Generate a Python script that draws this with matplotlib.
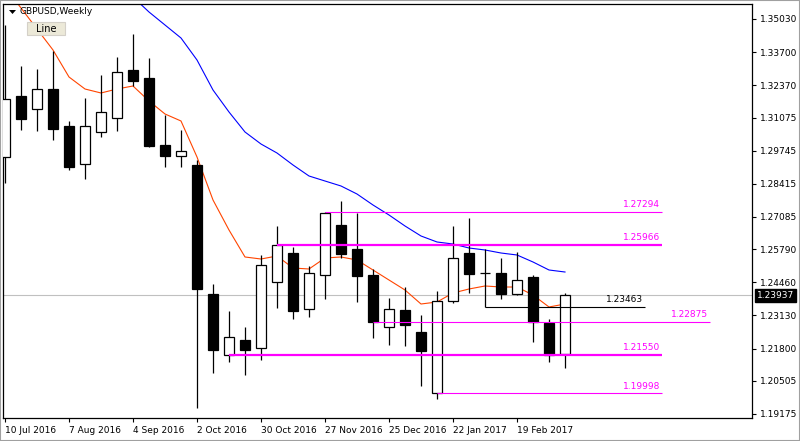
import numpy as np
import matplotlib.pyplot as plt
from matplotlib.patches import Rectangle, Polygon

# weekly GBPUSD candles, 10 Jul 2016 .. 12 Mar 2017
opens = [1.29491, 1.31939, 1.31417, 1.32220, 1.30735, 1.29210, 1.30494, 1.31056, 1.32983,
         1.32662, 1.29972, 1.29531, 1.29170, 1.23991, 1.21550, 1.22145, 1.21824, 1.24473,
         1.25637, 1.23389, 1.24754, 1.26761, 1.25798, 1.24754, 1.22667, 1.23349, 1.22466,
         1.19998, 1.23711, 1.25637, 1.24830, 1.24834, 1.23991, 1.24674, 1.22827, 1.21583]
highs = [1.34789, 1.33143, 1.33023, 1.33746, 1.30936, 1.31859, 1.32782, 1.33505, 1.34428,
         1.33465, 1.31177, 1.30574, 1.29370, 1.24393, 1.23309, 1.22667, 1.25557, 1.26721,
         1.25878, 1.25115, 1.27294, 1.27725, 1.27243, 1.24995, 1.23831, 1.24272, 1.23149,
         1.24112, 1.26721, 1.27042, 1.25798, 1.25437, 1.25677, 1.24754, 1.22988, 1.24032]
lows = [1.28447, 1.30574, 1.30534, 1.30173, 1.28969, 1.28608, 1.30293, 1.30534, 1.32341,
        1.29892, 1.29089, 1.29089, 1.19416, 1.20820, 1.21262, 1.20740, 1.21342, 1.23430,
        1.22988, 1.23068, 1.23791, 1.25437, 1.23670, 1.22225, 1.21944, 1.21904, 1.20299,
        1.19777, 1.23630, 1.24032, 1.23463, 1.23791, 1.23951, 1.22065, 1.21262, 1.21021]
closes = [1.31819, 1.31016, 1.32220, 1.30615, 1.29089, 1.30735, 1.31297, 1.32903, 1.32541,
          1.29932, 1.29531, 1.29732, 1.24192, 1.21744, 1.22265, 1.21744, 1.25156, 1.25966,
          1.23309, 1.24834, 1.27260, 1.25597, 1.24714, 1.22875, 1.23389, 1.22747, 1.21704,
          1.23711, 1.25437, 1.24794, 1.24840, 1.23991, 1.24553, 1.22875, 1.21550, 1.23937]

ma_fast = [1.36314, 1.35472, 1.34629, 1.33786, 1.32702, 1.32220, 1.32060, 1.32220, 1.32341,
           1.31739, 1.31217, 1.30936, 1.29491, 1.27765, 1.26560, 1.25477, 1.25396, 1.25517,
           1.25035, 1.24995, 1.25437, 1.25477, 1.25356, 1.24955, 1.24553, 1.24152, 1.23590,
           1.23670, 1.24032, 1.24192, 1.24313, 1.24272, 1.24272, 1.23951, 1.23470, 1.23590]
ma_slow = [np.nan] * 8 + [1.35913, 1.35311, 1.34789, 1.34267, 1.33384, 1.32180, 1.31297,
           1.30494, 1.30012, 1.29651, 1.29170, 1.28728, 1.28527, 1.28327, 1.28005, 1.27564,
           1.27163, 1.26721, 1.26320, 1.26079, 1.25998, 1.25838, 1.25758, 1.25637, 1.25557,
           1.25276, 1.24955, 1.24874]

date_labels = ["10 Jul 2016", "7 Aug 2016", "4 Sep 2016", "2 Oct 2016", "30 Oct 2016",
               "27 Nov 2016", "25 Dec 2016", "22 Jan 2017", "19 Feb 2017"]
price_ticks = [1.35030, 1.33700, 1.32370, 1.31075, 1.29745, 1.28415, 1.27085, 1.25790,
               1.24460, 1.23130, 1.21800, 1.20505, 1.19175]

# horizontal levels: price, start bar, bars past last candle, thick
levels = [1.27294, 1.25966, 1.22875, 1.21550, 1.19998]
level_start = [20, 17, 23, 14, 27]
level_ext = [6.06, 6.06, 9.06, 6.06, 6.06]
level_thick = [False, True, False, True, False]
black_level = 1.23463
black_start = 30
bid = 1.23937

W, H = 800, 441
fs = 6.5
fig = plt.figure(figsize=(8, 4.41), dpi=100)
fig.patch.set_facecolor("white")
ax = fig.add_axes([3 / W, 1 - 418 / H, 749 / W, 414 / H])

n = len(opens)
x = np.arange(n)
last = n - 1

# bid line
ax.axhline(bid, color="#c0c0c0", lw=0.8, zorder=1)

# moving averages
ax.plot(x, ma_fast, color="#ff4500", lw=0.8, zorder=2)
ax.plot(x, ma_slow, color="#0000ff", lw=0.8, zorder=2)

# candles
bw = 0.66
for i in range(n):
    o, h, l, c = opens[i], highs[i], lows[i], closes[i]
    ax.vlines(i, l, h, color="black", lw=0.9, zorder=3)
    if abs(c - o) < 0.0003:
        ax.hlines(o, i - bw / 2, i + bw / 2, color="black", lw=0.9, zorder=4)
        continue
    fc = "white" if c > o else "black"
    ax.add_patch(Rectangle((i - bw / 2, min(o, c)), bw, abs(c - o),
                           facecolor=fc, edgecolor="black", lw=0.9, zorder=4))

# magenta levels
for lv, st, ext, thick in zip(levels, level_start, level_ext, level_thick):
    end = last + ext
    ax.hlines(lv, st, end, color="#ff00ff", lw=1.6 if thick else 0.8, zorder=5)
    ax.text(end - 0.1, lv + 0.0011, f"{lv:.5f}", color="#ff00ff", fontsize=fs,
            ha="right", va="bottom", zorder=6)

ax.hlines(black_level, black_start, last + 5, color="black", lw=0.8, zorder=5)
ax.text(last + 4.9, black_level + 0.0011, f"{black_level:.5f}", color="black",
        fontsize=fs, ha="right", va="bottom", zorder=6)

ax.set_xlim(-0.125, 46.6875)
ax.set_ylim(1.19014, 1.35632)

ax.yaxis.tick_right()
ax.set_yticks(price_ticks)
ax.set_yticklabels([f"{p:.5f}" for p in price_ticks], fontsize=fs)
ax.set_xticks(np.arange(0, 33, 4))
ax.set_xticklabels(date_labels, fontsize=fs, ha="left")
ax.tick_params(axis="both", length=3, width=0.8, color="black", pad=3)
ax.tick_params(axis="x", pad=3)
for sp in ax.spines.values():
    sp.set_linewidth(0.9)

# bid marker on price scale
ax.text(1.006, bid, f"{bid:.5f}", transform=ax.get_yaxis_transform(), fontsize=fs,
        color="white", ha="left", va="center",
        bbox=dict(boxstyle="square,pad=0.2", facecolor="black", edgecolor="black"))

# header and button
fig.text(20 / W, 1 - 12 / H, "GBPUSD,Weekly", fontsize=fs, color="black", va="center")
fig.patches.append(Polygon([[9 / W, 1 - 10 / H], [16 / W, 1 - 10 / H], [12.5 / W, 1 - 14 / H]],
                           closed=True, transform=fig.transFigure, facecolor="black",
                           edgecolor="none"))
fig.patches.append(Rectangle((27 / W, 1 - 35 / H), 38 / W, 13 / H, transform=fig.transFigure,
                             facecolor="#ece9d8", edgecolor="#d4d0c8", lw=0.8))
fig.text(46 / W, 1 - 28.5 / H, "Line", fontsize=fs + 0.5, ha="center", va="center")

# window border
fig.patches.append(Rectangle((0, 0), 1, 1, transform=fig.transFigure, fill=False,
                             edgecolor="#a0a0a0", lw=1.5))

fig.savefig("out.png", dpi=100)
